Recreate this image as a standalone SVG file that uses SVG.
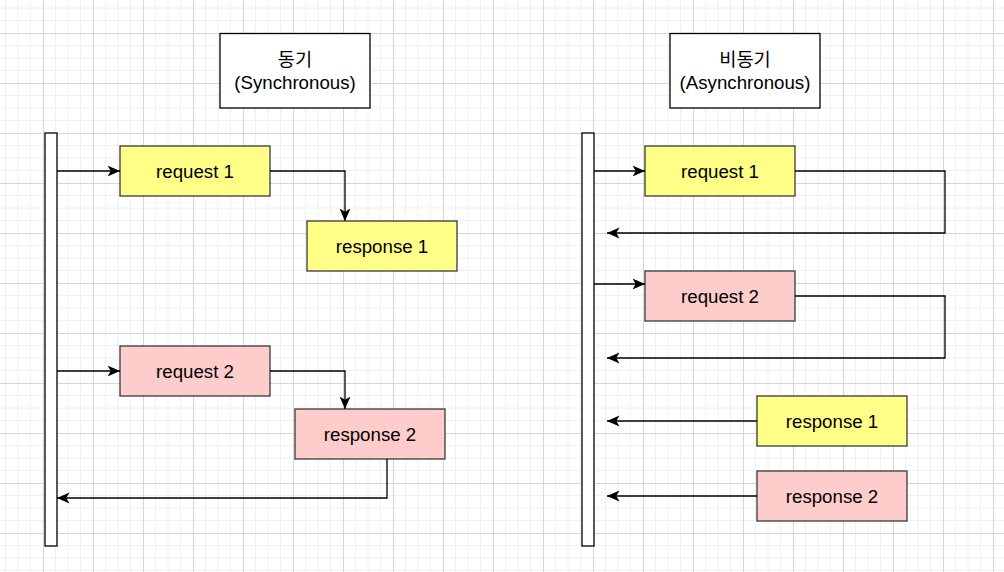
<svg xmlns="http://www.w3.org/2000/svg" width="1004" height="572" viewBox="0 0 1004 572">
<style>
.t{font-family:"Liberation Sans","Noto Sans CJK KR",sans-serif;font-size:18.7px;fill:#000;text-anchor:middle}
.y{fill:#ffff88;stroke:#36393d;stroke-width:1.3}
.p{fill:#ffcccc;stroke:#36393d;stroke-width:1.3}
.title{fill:#fff;stroke:#000;stroke-width:1.3}
.life{fill:#fff;stroke:#000;stroke-width:1.3}
.c{fill:none;stroke:#000;stroke-width:1.3}
</style>
<defs>
<pattern id="grid" patternUnits="userSpaceOnUse" x="43" y="33" width="50" height="50">
<path d="M12.5 0V50M25 0V50M37.5 0V50M0 12.5H50M0 25H50M0 37.5H50" stroke="#f0f0f0" stroke-width="1" fill="none"/>
<path d="M0.5 0V50M0 0.5H50" stroke="#d6d6d6" stroke-width="1" fill="none"/>
</pattern>
<marker id="arr" markerUnits="userSpaceOnUse" markerWidth="14" markerHeight="13" refX="12.5" refY="6" orient="auto" viewBox="0 0 14 13">
<path d="M0 0.5L12.5 6L0 11.5L3.2 6Z" fill="#000"/>
</marker>
</defs>
<rect width="1004" height="572" fill="#fff"/>
<rect width="1004" height="572" fill="url(#grid)"/>

<g id="title-sync">
<rect class="title" x="220" y="33.5" width="150" height="74.5"/>
<text class="t" x="295" y="66">동기</text>
<text class="t" x="295" y="89">(Synchronous)</text>
</g>
<g id="title-async">
<rect class="title" x="670" y="33.5" width="150" height="74.5"/>
<text class="t" x="745" y="66">비동기</text>
<text class="t" x="745" y="89">(Asynchronous)</text>
</g>

<g id="lifeline-sync"><rect class="life" x="45" y="133" width="12" height="413"/></g>
<g id="lifeline-async"><rect class="life" x="582" y="133" width="12" height="413"/></g>

<g id="sync-request1"><rect class="y" x="120" y="146" width="150" height="50"/><text class="t" x="195" y="177.5">request 1</text></g>
<g id="sync-response1"><rect class="y" x="307" y="221" width="150" height="50"/><text class="t" x="382" y="252.5">response 1</text></g>
<g id="sync-request2"><rect class="p" x="120" y="346" width="150" height="50"/><text class="t" x="195" y="377.5">request 2</text></g>
<g id="sync-response2"><rect class="p" x="295" y="409" width="150" height="50"/><text class="t" x="370" y="440.5">response 2</text></g>

<g id="async-request1"><rect class="y" x="645" y="146" width="150" height="50"/><text class="t" x="720" y="177.5">request 1</text></g>
<g id="async-request2"><rect class="p" x="645" y="271" width="150" height="50"/><text class="t" x="720" y="302.5">request 2</text></g>
<g id="async-response1"><rect class="y" x="757" y="396" width="150" height="50"/><text class="t" x="832" y="427.5">response 1</text></g>
<g id="async-response2"><rect class="p" x="757" y="471" width="150" height="50"/><text class="t" x="832" y="502.5">response 2</text></g>

<g id="connectors">
<path class="c" d="M57 171H120" marker-end="url(#arr)"/>
<path class="c" d="M270 171H345V221" marker-end="url(#arr)"/>
<path class="c" d="M57 371H120" marker-end="url(#arr)"/>
<path class="c" d="M270 371H345V409" marker-end="url(#arr)"/>
<path class="c" d="M387 459V498H57" marker-end="url(#arr)"/>

<path class="c" d="M594 171H645" marker-end="url(#arr)"/>
<path class="c" d="M795 171H945V233H607" marker-end="url(#arr)"/>
<path class="c" d="M594 284H645" marker-end="url(#arr)"/>
<path class="c" d="M795 296H945V358H607" marker-end="url(#arr)"/>
<path class="c" d="M757 421H607" marker-end="url(#arr)"/>
<path class="c" d="M757 496H607" marker-end="url(#arr)"/>
</g>
</svg>
